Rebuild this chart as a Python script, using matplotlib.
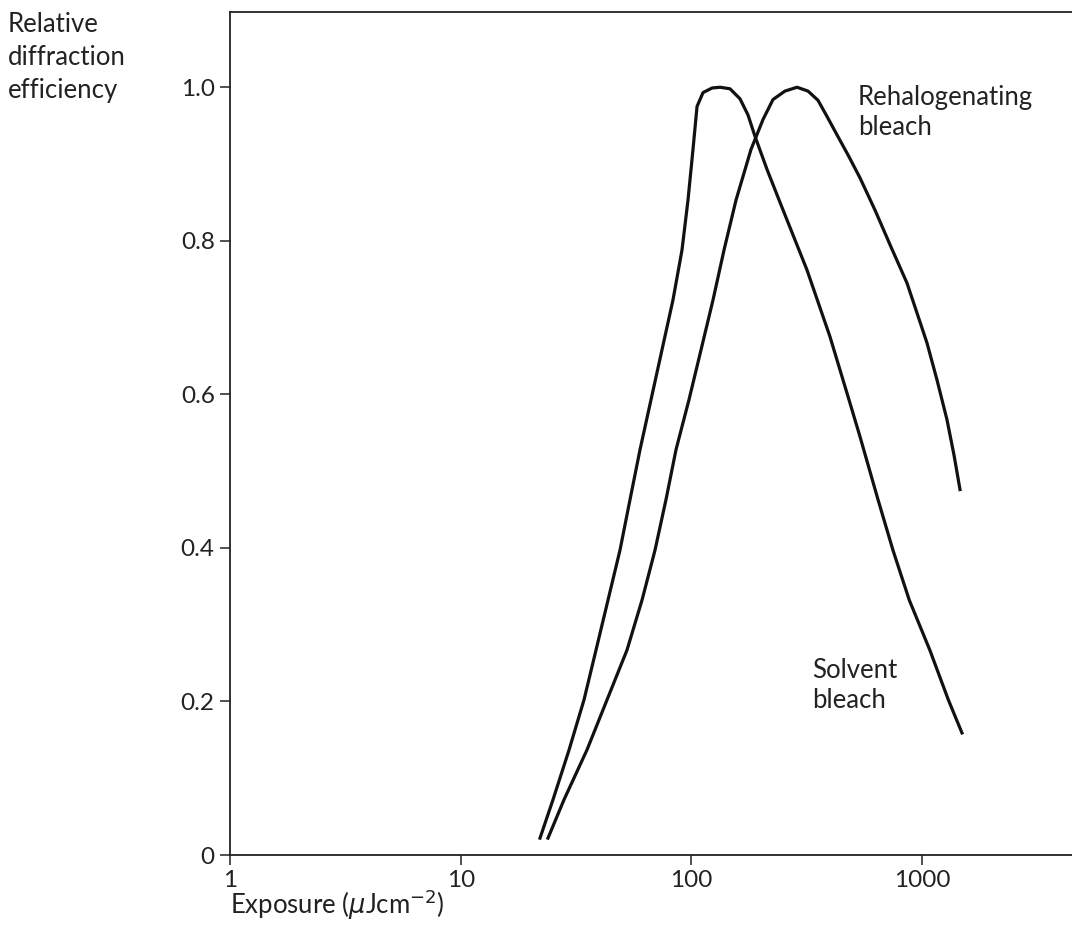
import matplotlib
matplotlib.use("Agg")
import matplotlib.pyplot as plt
from matplotlib.ticker import NullLocator

plt.rcParams['font.family'] = ['Lato', 'DejaVu Sans']

# values (exposure in uJ/cm^2, relative efficiency)
solvent_x = [22.07, 25.12, 29.50, 34.23, 38.60, 43.50, 49.03, 54.20, 59.89, 66.83, 74.57,
             83.22, 91.05, 96.67, 101.6, 105.8, 112.3, 122.9, 133.0, 147.0, 162.4, 175.9,
             188.7, 212.7, 242.2, 317.0, 398.9, 482.0, 538.0, 643.9, 747.8, 880.0, 1080,
             1300, 1489]
solvent_y = [0.022, 0.072, 0.137, 0.202, 0.267, 0.332, 0.397, 0.463, 0.528, 0.593, 0.658,
             0.723, 0.788, 0.853, 0.919, 0.975, 0.993, 0.999, 1.0, 0.998, 0.985, 0.964,
             0.936, 0.893, 0.850, 0.762, 0.675, 0.593, 0.545, 0.463, 0.397, 0.332, 0.267,
             0.202, 0.159]

rehal_x = [23.90, 28.04, 35.28, 43.07, 52.59, 61.09, 69.54, 77.62, 85.78, 97.63, 110.1,
           124.1, 138.5, 156.1, 181.3, 204.4, 225.8, 254.5, 286.9, 320.2, 353.8, 387.1,
           427.7, 477.2, 538.0, 625.0, 733.2, 860.0, 950.4, 1050, 1160, 1282, 1375, 1460]
rehal_y = [0.022, 0.072, 0.137, 0.202, 0.267, 0.332, 0.397, 0.463, 0.528, 0.593, 0.658,
           0.723, 0.788, 0.853, 0.919, 0.958, 0.984, 0.995, 1.0, 0.995, 0.983, 0.962,
           0.938, 0.912, 0.882, 0.840, 0.792, 0.745, 0.706, 0.667, 0.619, 0.567, 0.521,
           0.476]

y_ticks = [0, 0.2, 0.4, 0.6, 0.8, 1.0]
y_labels = ['0', '0.2', '0.4', '0.6', '0.8', '1.0']
x_ticks = [1, 10, 100, 1000]
x_labels = ['1', '10', '100', '1000']

W, H = 1072, 944
fig = plt.figure(figsize=(W / 100, H / 100), dpi=100)
ax = fig.add_axes([230 / W, 1 - 855 / H, 1 - 230 / W, (855 - 12) / H])

ax.plot(solvent_x, solvent_y, color='#111111', lw=2.3, solid_joinstyle='round')
ax.plot(rehal_x, rehal_y, color='#111111', lw=2.3, solid_joinstyle='round')

ax.set_xscale('log')
ax.set_xlim(1, 4465)
ax.set_ylim(0, 1.098)
ax.set_xticks(x_ticks)
ax.set_xticklabels(x_labels)
ax.xaxis.set_minor_locator(NullLocator())
ax.set_yticks(y_ticks)
ax.set_yticklabels(y_labels)

ax.spines['right'].set_visible(False)
for s in ['left', 'bottom', 'top']:
    ax.spines[s].set_linewidth(1.3)
    ax.spines[s].set_color('#222222')
ax.tick_params(direction='out', length=7, width=1.1, labelsize=17.5, colors='#222222', pad=4)

fig.text(8 / W, 1 - 12 / H, 'Relative\ndiffraction\nefficiency', fontsize=18.5,
         ha='left', va='top', linespacing=1.4, color='#222222')
fig.text(230 / W, 1 - 905 / H, r'Exposure ($\mu$Jcm$^{-2}$)', fontsize=18.5,
         ha='left', va='center', color='#222222')

fig.text(858 / W, 1 - 85 / H, 'Rehalogenating\nbleach', fontsize=18.5, ha='left', va='top',
         linespacing=1.25, color='#222222')
fig.text(812 / W, 1 - 658 / H, 'Solvent\nbleach', fontsize=18.5, ha='left', va='top',
         linespacing=1.25, color='#222222')

fig.savefig('out.png', dpi=100)
